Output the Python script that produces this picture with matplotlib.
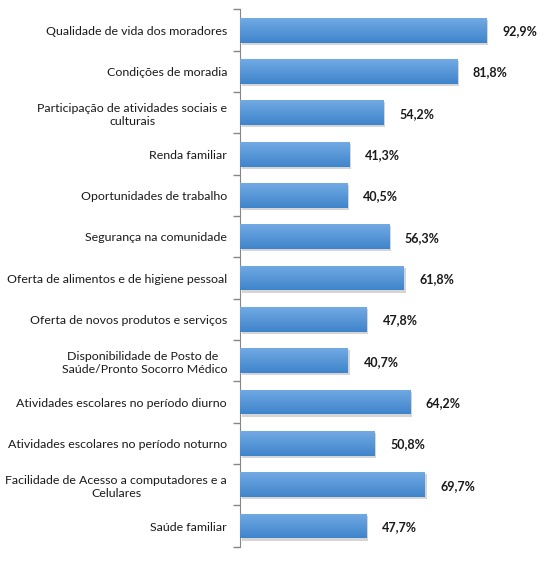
import numpy as np
import matplotlib.pyplot as plt
from matplotlib import patheffects
from matplotlib.colors import LinearSegmentedColormap

categorias = [
    "Qualidade de vida dos moradores",
    "Condições de moradia",
    "Participação de atividades sociais e\nculturais",
    "Renda familiar",
    "Oportunidades de trabalho",
    "Segurança na comunidade",
    "Oferta de alimentos e de higiene pessoal",
    "Oferta de novos produtos e serviços",
    "Disponibilidade de Posto de \nSaúde/Pronto Socorro Médico",
    "Atividades escolares no período diurno",
    "Atividades escolares no período noturno",
    "Facilidade de Acesso a computadores e a\nCelulares",
    "Saúde familiar",
]
valores = [92.9, 81.8, 54.2, 41.3, 40.5, 56.3, 61.8, 47.8, 40.7, 64.2, 50.8, 69.7, 47.7]
rotulos = ["92,9%", "81,8%", "54,2%", "41,3%", "40,5%", "56,3%", "61,8%",
           "47,8%", "40,7%", "64,2%", "50,8%", "69,7%", "47,7%"]

plt.rcParams['font.family'] = ['Lato', 'DejaVu Sans']

fig = plt.figure(figsize=(5.48, 5.65), dpi=100)
ax = fig.add_axes([0.4372, 0.0324, 0.4841, 0.9508])

y = np.arange(len(categorias))
bars = ax.barh(y, valores, height=0.6, color='#5797d9', zorder=2)

# gradiente vertical (claro em cima, escuro embaixo) + sombra leve
grad = np.linspace(0, 1, 64).reshape(-1, 1)
cmap = LinearSegmentedColormap.from_list('azul', ['#72aae4', '#3f84cb'])
for b in bars:
    b.set_path_effects([patheffects.SimplePatchShadow(offset=(1.5, -1.5), shadow_rgbFace='#777777', alpha=0.3),
                        patheffects.Normal()])
    x0, y0, w, h = b.get_x(), b.get_y(), b.get_width(), b.get_height()
    im = ax.imshow(grad, cmap=cmap, aspect='auto', extent=(x0, x0 + w, y0 + h, y0),
                   origin='upper', zorder=3)
    im.set_clip_path(b)

for yi, v, r in zip(y, valores, rotulos):
    ax.annotate(r, (v, yi), xytext=(16, -1), textcoords='offset pixels',
                ha='left', va='center', fontsize=9, fontweight='bold', color='#1a1a1a')

ax.set_xlim(0, 100)
ax.set_ylim(len(categorias) - 0.5, -0.5)
ax.set_yticks(y)
ax.set_yticklabels(categorias, fontsize=8.9, color='#1a1a1a', multialignment='center')
ax.tick_params(axis='y', which='major', length=0, pad=9)
ax.set_yticks(np.arange(-0.5, len(categorias), 1), minor=True)
ax.tick_params(axis='y', which='minor', length=5, color='#868686', width=1)
ax.set_xticks([])
for s in ['top', 'right', 'bottom']:
    ax.spines[s].set_visible(False)
ax.spines['left'].set_color('#868686')

fig.savefig('out.png', dpi=100)
